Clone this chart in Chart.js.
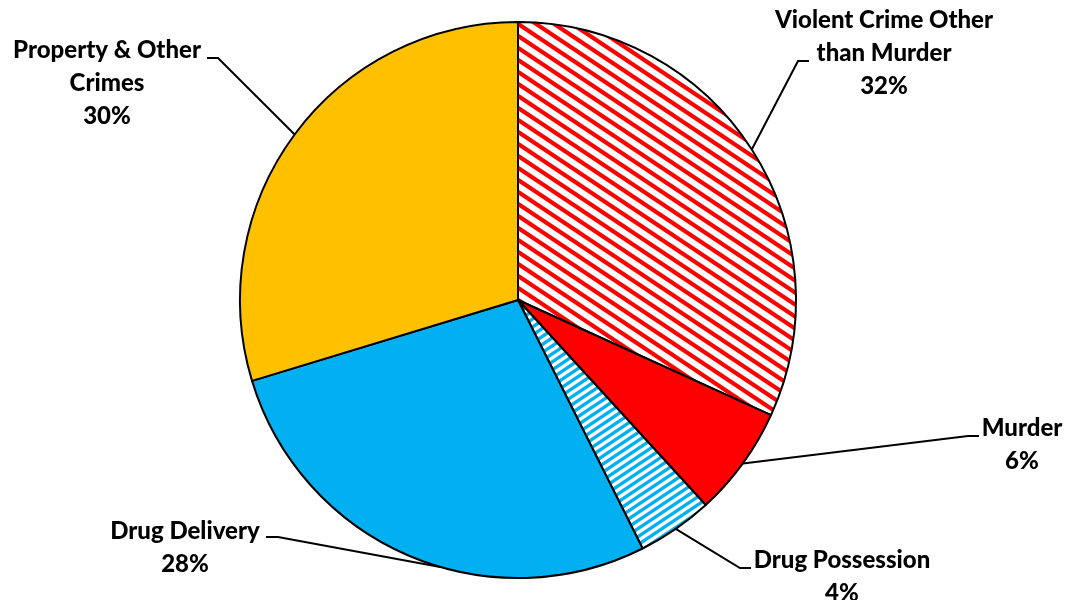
<!DOCTYPE html>
<html>
<head>
<meta charset="utf-8">
<script src="https://cdn.jsdelivr.net/npm/chart.js@4.4.1/dist/chart.umd.min.js"></script>
<style>
html,body{margin:0;padding:0;background:#fff;}
#wrap{width:1070px;height:600px;position:relative;}
</style>
</head>
<body>
<div id="wrap"><canvas id="c" width="1070" height="600"></canvas></div>
<script>
// ---- data ----
const categories = ['Violent Crime Other than Murder', 'Murder', 'Drug Possession', 'Drug Delivery', 'Property & Other Crimes'];
const shares = [31.8, 6.4, 4.4, 27.7, 29.7];
const percentLabels = ['32%', '6%', '4%', '28%', '30%'];

// ---- patterns ----
function stripePattern(w, h, thick, color, upward) {
  const t = document.createElement('canvas');
  t.width = w; t.height = h;
  const g = t.getContext('2d');
  g.fillStyle = '#fff';
  g.fillRect(0, 0, w, h);
  g.fillStyle = color;
  for (let k = -2; k <= 2; k++) {
    g.beginPath();
    if (!upward) {
      g.moveTo(0, k * h);
      g.lineTo(w, k * h + h);
      g.lineTo(w, k * h + h + thick);
      g.lineTo(0, k * h + thick);
    } else {
      g.moveTo(0, k * h + h);
      g.lineTo(w, k * h);
      g.lineTo(w, k * h + thick);
      g.lineTo(0, k * h + h + thick);
    }
    g.closePath();
    g.fill();
  }
  return g.createPattern(t, 'repeat');
}
const ctx0 = document.getElementById('c').getContext('2d');
const redHatch = stripePattern(18, 12, 5, '#FF0000', false);
const blueHatch = stripePattern(12, 8, 4, '#00B0F0', true);
const fills = [redHatch, '#FF0000', blueHatch, '#00B0F0', '#FFC000'];

// ---- label layout (positions of text blocks and leader elbows) ----
const labelLayout = [
  { cx: 884, y0: 20, elbow: [798, 61], tail: [809, 61], frac: 0.5 },
  { cx: 1022, y0: 428, elbow: [968, 436], tail: [979, 436], frac: 0.5 },
  { cx: 842, y0: 560, elbow: [740, 568], tail: [751, 568], frac: 0.5 },
  { cx: 185, y0: 531, elbow: [278, 537], tail: [266, 537], frac: 0.43 },
  { cx: 107, y0: 50, elbow: [218, 58], tail: [207, 58], frac: 0.5 }
];
const FONT = '900 24px Lato, "Open Sans", sans-serif';
const LINE_H = 33;
const WRAP_W = 245;

function wrap(g, text, maxW) {
  const words = text.split(' ');
  const lines = [];
  let cur = '';
  for (const w of words) {
    const test = cur ? cur + ' ' + w : w;
    if (g.measureText(test).width > maxW && cur) { lines.push(cur); cur = w; }
    else cur = test;
  }
  if (cur) lines.push(cur);
  return lines;
}

const labelPlugin = {
  id: 'pieLabels',
  afterDatasetsDraw(chart) {
    const g = chart.ctx;
    const meta = chart.getDatasetMeta(0);
    g.save();
    g.font = FONT;
    g.fillStyle = '#000';
    g.textAlign = 'center';
    g.textBaseline = 'middle';
    meta.data.forEach((arc, i) => {
      const L = labelLayout[i];
      const p = arc.getProps(['x', 'y', 'startAngle', 'endAngle', 'outerRadius'], true);
      const a = p.startAngle + (p.endAngle - p.startAngle) * L.frac;
      const ex = p.x + Math.cos(a) * p.outerRadius;
      const ey = p.y + Math.sin(a) * p.outerRadius;
      g.strokeStyle = '#000';
      g.lineWidth = 2;
      g.beginPath();
      g.moveTo(ex, ey);
      g.lineTo(L.elbow[0], L.elbow[1]);
      g.lineTo(L.tail[0], L.tail[1]);
      g.stroke();
      const lines = wrap(g, categories[i], WRAP_W).concat([percentLabels[i]]);
      lines.forEach((ln, j) => g.fillText(ln, L.cx, L.y0 + j * LINE_H));
    });
    g.restore();
  }
};

new Chart(ctx0, {
  type: 'pie',
  data: {
    labels: categories,
    datasets: [{
      data: shares,
      backgroundColor: fills,
      borderColor: '#000',
      borderWidth: 2,
      hoverOffset: 0
    }]
  },
  options: {
    responsive: false,
    animation: false,
    layout: { padding: { left: 0, right: 34, top: 21, bottom: 21 } },
    plugins: { legend: { display: false }, tooltip: { enabled: false } }
  },
  plugins: [labelPlugin]
});
</script>
</body>
</html>
